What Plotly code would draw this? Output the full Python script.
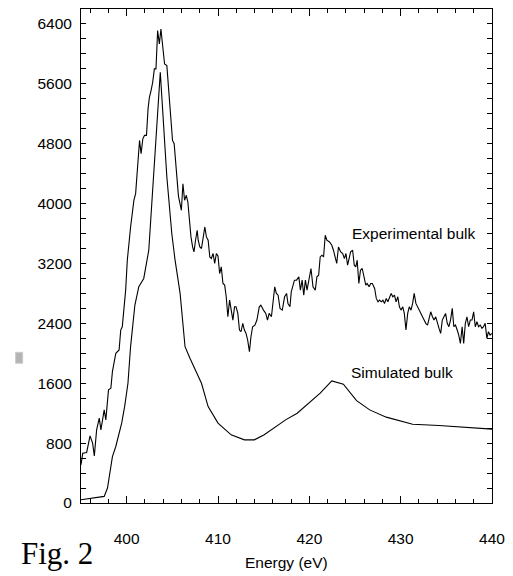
import plotly.graph_objects as go

# Simulated bulk spectrum (energy in eV, intensity)
sim_energy = [395.0, 397.54, 397.9, 398.44, 398.81, 399.46, 399.78, 400.14, 400.43, 400.9,
              401.33, 401.87, 402.42, 403.68, 404.4, 404.94, 405.3, 405.85, 406.39, 406.93,
              408.19, 408.92, 410.0, 411.44, 412.89, 413.98, 415.06, 416.32, 417.4, 418.67,
              419.75, 421.19, 422.46, 423.73, 425.17, 426.61, 428.42, 431.31, 434.2, 437.44, 440.0]
sim_intensity = [44, 88, 200, 620, 755, 1070, 1290, 1600, 2090, 2645,
                 2890, 3000, 3377, 5755, 4355, 3600, 3244, 2800, 2088, 1933,
                 1600, 1288, 1067, 911, 844, 844, 911, 1022, 1111, 1200,
                 1311, 1467, 1631, 1587, 1368, 1244, 1147, 1053, 1035, 1008, 987]

# Experimental bulk spectrum
exp_energy = [395.0, 395.19, 395.62, 395.99, 396.27, 396.46, 396.71, 397.0, 397.18, 397.54,
              397.72, 398.01, 398.27, 398.44, 398.81, 399.17, 399.35, 399.52, 399.89, 400.07,
              400.43, 400.79, 400.98, 401.15, 401.41, 401.58, 401.77, 401.95, 402.17, 402.34,
              402.49, 402.67, 402.85, 403.03, 403.21, 403.39, 403.58, 403.75, 403.97, 404.15,
              404.4, 404.58, 404.77, 405.02, 405.2, 405.48, 405.67, 405.99, 406.16, 406.34,
              406.53, 406.7, 406.86, 407.04, 407.22, 407.37, 407.54, 407.72, 407.83, 408.01,
              408.19, 408.37, 408.56, 408.73, 408.92, 409.1, 409.27, 409.46, 409.64, 409.82,
              410.0, 410.18, 410.36, 410.54, 410.73, 410.9, 411.08, 411.27, 411.44, 411.63,
              411.81, 411.98, 412.17, 412.35, 412.52, 412.71, 412.89, 413.07, 413.25, 413.44,
              413.61, 413.79, 414.04, 414.26, 414.52, 414.69, 414.98, 415.23, 415.42, 415.6,
              415.85, 416.07, 416.21, 416.39, 416.58, 416.79, 417.04, 417.29, 417.51, 417.66,
              417.88, 418.02, 418.23, 418.37, 418.59, 418.85, 419.02, 419.21, 419.39, 419.57,
              419.75, 419.93, 420.18, 420.4, 420.65, 420.83, 421.02, 421.19, 421.38, 421.56,
              421.74, 421.92, 422.21, 422.46, 422.64, 423.0, 423.19, 423.44, 423.65, 423.84,
              424.01, 424.19, 424.38, 424.52, 424.74, 424.92, 425.09, 425.24, 425.42, 425.6,
              425.79, 425.96, 426.18, 426.33, 426.54, 426.72, 426.9, 427.15, 427.33, 427.52,
              427.69, 427.88, 428.06, 428.23, 428.42, 428.6, 428.78, 428.96, 429.14, 429.32,
              429.5, 429.69, 429.86, 430.04, 430.23, 430.4, 430.58, 430.77, 430.94, 431.13,
              431.31, 431.48, 431.67, 431.85, 432.03, 432.21, 432.39, 432.57, 432.75, 432.94,
              433.11, 433.29, 433.48, 433.65, 433.84, 434.02, 434.2, 434.38, 434.56, 434.74,
              434.92, 435.1, 435.28, 435.46, 435.65, 435.82, 436.0, 436.19, 436.36, 436.54,
              436.73, 436.9, 437.08, 437.26, 437.44, 437.63, 437.81, 437.99, 438.17, 438.35,
              438.53, 438.71, 438.9, 439.07, 439.25, 439.44, 439.61, 439.79, 439.97]
exp_intensity = [510, 666, 675, 897, 800, 630, 977, 1133, 977, 1244,
                 1111, 1511, 1533, 1755, 2000, 2044, 2311, 2355, 2844, 3244,
                 3688, 4044, 4133, 4444, 4844, 4667, 4866, 4911, 4911, 5266,
                 5421, 5511, 5621, 5800, 5800, 6311, 6133, 6333, 6088, 5866,
                 5844, 5555, 5288, 4844, 4800, 4400, 4100, 3911, 4266, 4044,
                 4111, 4021, 3800, 3555, 3421, 3355, 3511, 3644, 3511, 3421,
                 3400, 3555, 3688, 3555, 3511, 3288, 3266, 3333, 3200, 3333,
                 3300, 3066, 3155, 2933, 2911, 2755, 2488, 2711, 2577, 2444,
                 2621, 2621, 2533, 2311, 2288, 2400, 2311, 2266, 2177, 2021,
                 2221, 2355, 2377, 2444, 2621, 2644, 2577, 2533, 2444, 2533,
                 2488, 2711, 2888, 2800, 2777, 2600, 2577, 2755, 2800, 2666,
                 2621, 2821, 2933, 2977, 2977, 3021, 2844, 2977, 2777, 2977,
                 2844, 2977, 3133, 2888, 2844, 3021, 3044, 3288, 3311, 3288,
                 3577, 3511, 3488, 3444, 3377, 3200, 3421, 3355, 3333, 3266,
                 3333, 3177, 3311, 3355, 3377, 3177, 3155, 3244, 2933, 3111,
                 3133, 3021, 2911, 2933, 2888, 2933, 2933, 2866, 2733, 2688,
                 2711, 2688, 2711, 2666, 2733, 2688, 2755, 2800, 2755, 2777,
                 2688, 2755, 2621, 2577, 2621, 2533, 2311, 2533, 2621, 2577,
                 2666, 2800, 2666, 2621, 2577, 2511, 2488, 2444, 2400, 2377,
                 2488, 2555, 2488, 2444, 2488, 2400, 2333, 2266, 2444, 2488,
                 2533, 2400, 2355, 2444, 2600, 2355, 2377, 2311, 2244, 2133,
                 2355, 2133, 2400, 2488, 2355, 2444, 2444, 2555, 2355, 2421,
                 2355, 2377, 2333, 2355, 2400, 2200, 2288, 2244, 2266]

x_ticks = [400, 410, 420, 430, 440]
y_ticks = [0, 800, 1600, 2400, 3200, 4000, 4800, 5600, 6400]

fig = go.Figure()
fig.add_trace(go.Scatter(x=exp_energy, y=exp_intensity, mode="lines",
                         line=dict(color="black", width=1.1), name="Experimental bulk"))
fig.add_trace(go.Scatter(x=sim_energy, y=sim_intensity, mode="lines",
                         line=dict(color="black", width=1.1), name="Simulated bulk"))

font_main = "Liberation Sans, Arial, sans-serif"

fig.update_layout(
    width=513, height=576,
    margin=dict(l=81, r=16, t=8, b=73),
    paper_bgcolor="white", plot_bgcolor="white",
    showlegend=False,
    font=dict(family=font_main, size=15, color="black"),
    xaxis=dict(range=[395, 440], tickvals=x_ticks, ticks="inside", ticklen=7,
               tickcolor="black", tickwidth=1, showline=True, linecolor="black",
               linewidth=1, mirror="ticks", showgrid=False, zeroline=False,
               ticklabelstandoff=21, tickfont=dict(size=15.5),
               minor=dict(ticks="inside", dtick=2, ticklen=4, tickcolor="black", showgrid=False)),
    yaxis=dict(range=[0, 6600], tickvals=y_ticks, ticks="inside", ticklen=5,
               tickcolor="black", tickwidth=1, showline=True, linecolor="black",
               linewidth=1, mirror="ticks", showgrid=False, zeroline=False,
               ticklabelstandoff=5, tickfont=dict(size=15.5),
               minor=dict(ticks="inside", dtick=200, ticklen=5, tickcolor="black", showgrid=False)),
)

fig.add_annotation(x=424.4, y=3604, xref="x", yref="y", text="Experimental bulk",
                   showarrow=False, xanchor="left", yanchor="middle",
                   font=dict(family=font_main, size=15.5))
fig.add_annotation(x=424.3, y=1737, xref="x", yref="y", text="Simulated bulk",
                   showarrow=False, xanchor="left", yanchor="middle",
                   font=dict(family=font_main, size=15.5))
fig.add_annotation(x=0.5, y=-0.121, xref="paper", yref="paper", text="Energy (eV)",
                   showarrow=False, xanchor="center", yanchor="middle",
                   font=dict(family=font_main, size=15.5))
fig.add_annotation(x=-0.058, y=-0.103, xref="paper", yref="paper", text="Fig. 2",
                   showarrow=False, xanchor="center", yanchor="middle",
                   font=dict(family="Liberation Serif, Times New Roman, serif", size=31))
fig.add_shape(type="rect", xref="paper", yref="paper",
              x0=-0.159, x1=-0.142, y0=0.283, y1=0.305,
              line=dict(color="#c8c8c8", width=1), fillcolor="#b4b4b4")

fig.write_html("out.html")
